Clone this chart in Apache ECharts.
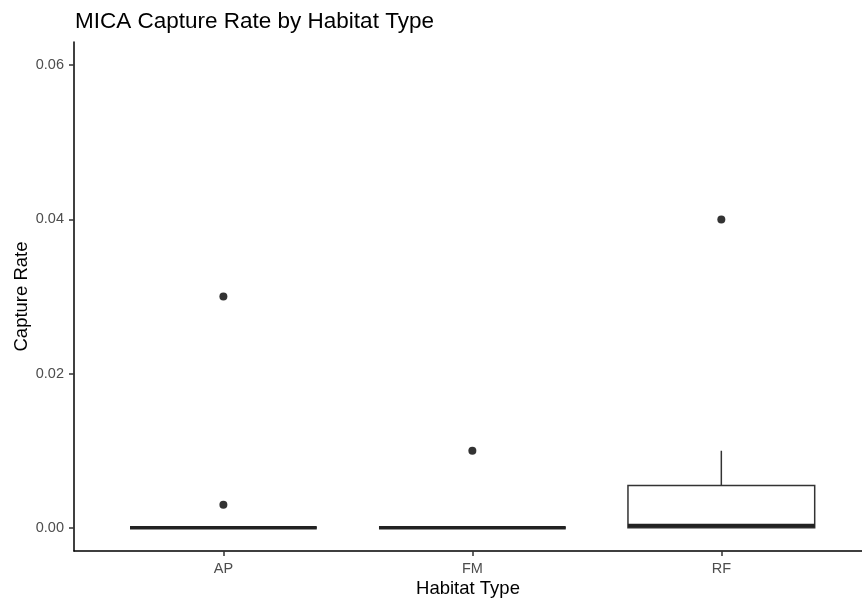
<!DOCTYPE html>
<html>
<head>
<meta charset="utf-8">
<script src="https://cdn.jsdelivr.net/npm/echarts@6/dist/echarts.min.js"></script>
<style>html,body{margin:0;padding:0;background:#fff}#c{width:862px;height:599px}</style>
</head>
<body>
<div id="c"></div>
<script>
// Data
const categories = ['AP', 'FM', 'RF'];
const whiskerLow = [0, 0, 0];
const q1 = [0, 0, 0];
const median = [0, 0, 0.0003];
const q3 = [0, 0, 0.0055];
const whiskerHigh = [0, 0, 0.01];
const outlierCategory = ['AP', 'AP', 'FM', 'RF'];
const outlierValue = [0.03, 0.003, 0.01, 0.04];
const yTicks = [0, 0.02, 0.04, 0.06];

const chart = echarts.init(document.getElementById('c'));
const boxData = categories.map((c, i) => [i + 1, whiskerLow[i], q1[i], median[i], q3[i], whiskerHigh[i]]);
const outData = outlierCategory.map((c, i) => [categories.indexOf(c) + 1, outlierValue[i]]);
const font = 'Liberation Sans, Arial, Helvetica, sans-serif';

chart.setOption({
  animation: false,
  backgroundColor: '#fff',
  title: {
    text: 'MICA Capture Rate by Habitat Type',
    left: 75, top: 10, padding: 0,
    textStyle: { fontFamily: font, fontSize: 22.5, fontWeight: 'normal', color: '#000' }
  },
  grid: { left: 74, right: 0, top: 42, bottom: 48, containLabel: false, outerBoundsMode: 'none' },
  xAxis: {
    type: 'value', min: 0.4, max: 3.565,
    name: 'Habitat Type', nameLocation: 'middle', nameGap: 28, nameMoveOverlap: false,
    nameTextStyle: { fontFamily: font, fontSize: 18.5, color: '#000' },
    splitLine: { show: false },
    axisLine: { show: true, onZero: false, lineStyle: { color: '#000', width: 1.5 } },
    axisTick: { show: true, length: 5, lineStyle: { color: '#333', width: 1.5 }, customValues: [1, 2, 3] },
    axisLabel: { customValues: [1, 2, 3], margin: 10, fontFamily: font, fontSize: 14.5, color: '#4D4D4D',
      formatter: v => categories[Math.round(v) - 1] || '' }
  },
  yAxis: {
    type: 'value', min: -0.003, max: 0.063,
    name: 'Capture Rate', nameLocation: 'middle', nameGap: 43, nameMoveOverlap: false,
    nameTextStyle: { fontFamily: font, fontSize: 18.5, color: '#000' },
    splitLine: { show: false },
    axisLine: { show: true, onZero: false, lineStyle: { color: '#000', width: 1.5 } },
    axisTick: { show: true, length: 5, lineStyle: { color: '#333', width: 1.5 }, customValues: yTicks },
    axisLabel: { customValues: yTicks, margin: 10, fontFamily: font, fontSize: 14.5, color: '#4D4D4D',
      formatter: v => v.toFixed(2) }
  },
  series: [
    {
      type: 'custom',
      data: boxData,
      renderItem: function (params, api) {
        const x = api.value(0);
        const halfW = api.size([0.75, 0])[0] / 2;
        const pLo = api.coord([x, api.value(1)]);
        const pQ1 = api.coord([x, api.value(2)]);
        const pMed = api.coord([x, api.value(3)]);
        const pQ3 = api.coord([x, api.value(4)]);
        const pHi = api.coord([x, api.value(5)]);
        const stroke = { stroke: '#333', lineWidth: 1.5, fill: null };
        const children = [];
        if (pHi[1] < pQ3[1]) children.push({ type: 'line', shape: { x1: pQ3[0], y1: pQ3[1], x2: pHi[0], y2: pHi[1] }, style: stroke });
        if (pLo[1] > pQ1[1]) children.push({ type: 'line', shape: { x1: pQ1[0], y1: pQ1[1], x2: pLo[0], y2: pLo[1] }, style: stroke });
        children.push({ type: 'rect', shape: { x: pQ1[0] - halfW, y: pQ3[1], width: halfW * 2, height: pQ1[1] - pQ3[1] },
          style: { fill: '#fff', stroke: '#333', lineWidth: 1.5 } });
        children.push({ type: 'line', shape: { x1: pMed[0] - halfW, y1: pMed[1], x2: pMed[0] + halfW, y2: pMed[1] },
          style: { stroke: '#222', lineWidth: 3.5 } });
        return { type: 'group', children: children };
      },
      z: 2
    },
    {
      type: 'scatter',
      data: outData,
      symbol: 'circle', symbolSize: 8,
      itemStyle: { color: '#000' },
      z: 3
    }
  ]
});
</script>
</body>
</html>
